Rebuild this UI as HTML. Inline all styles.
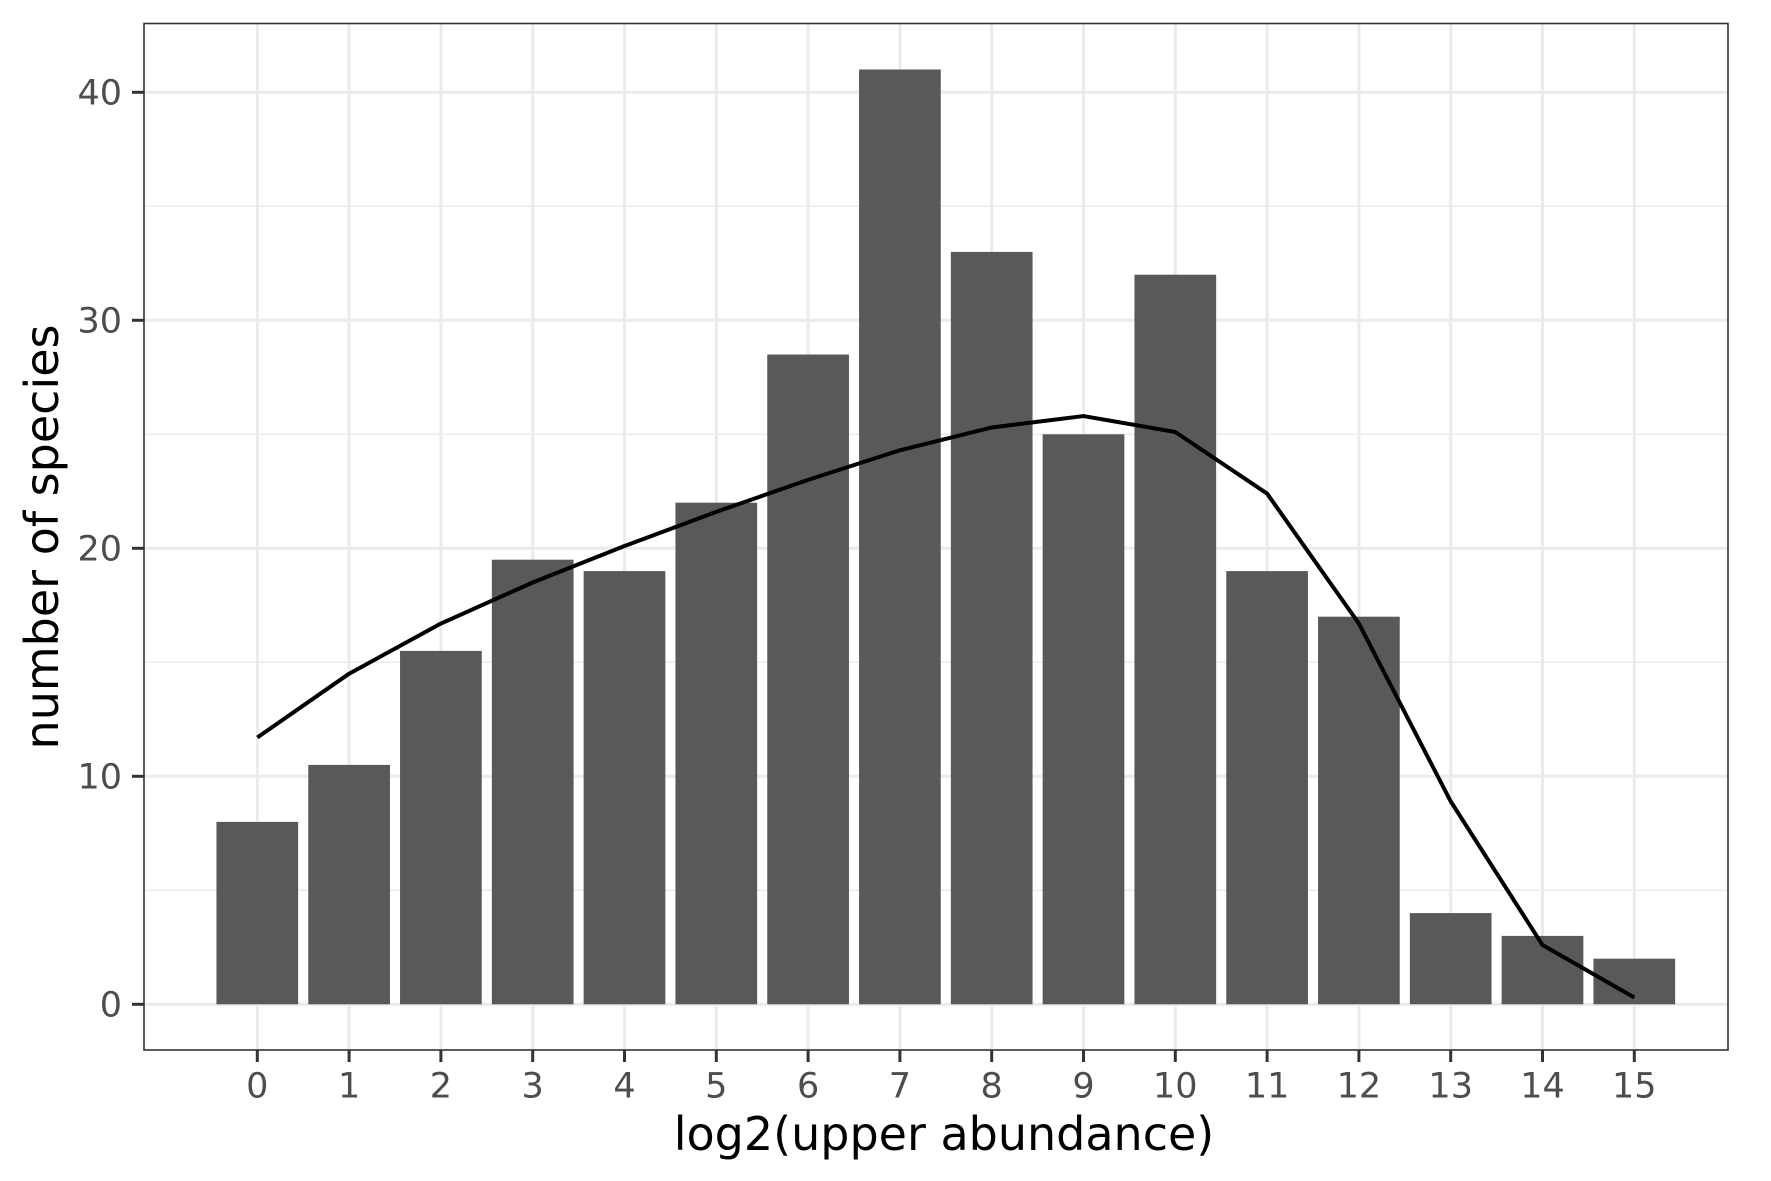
<!DOCTYPE html>
<html><head><meta charset="utf-8"><style>
html,body{margin:0;padding:0;background:#fff}
svg{display:block;font-family:"DejaVu Sans","Liberation Sans",sans-serif}
</style></head><body>
<svg id="chart" width="1771" height="1181" viewBox="0 0 1771 1181">
<g id="grid"></g>
<g id="bars"></g>
<g id="line"></g>
<g id="axes"></g>
<text x="944" y="1150" font-size="46" text-anchor="middle" fill="#000">log2(upper abundance)</text>
<text transform="translate(58,537) rotate(-90)" font-size="46" text-anchor="middle" fill="#000">number of species</text>
</svg>
<script>
const categories = [0,1,2,3,4,5,6,7,8,9,10,11,12,13,14,15];
const barValues = [8,10.5,15.5,19.5,19,22,28.5,41,33,25,32,19,17,4,3,2];
const lineValues = [11.7,14.5,16.7,18.5,20.1,21.6,23,24.3,25.3,25.8,25.1,22.4,16.7,8.9,2.6,0.3];
const yTicks = [0,10,20,30,40];
const yMinor = [5,15,25,35];

const L=144, R=1728, T=23.5, B=1050;
const X = v => 257.3 + v*91.8;
const Y = v => 1004.3 - v*22.8;
const NS="http://www.w3.org/2000/svg";
function mk(tag, attrs, parent){const e=document.createElementNS(NS,tag);for(const k in attrs)e.setAttribute(k,attrs[k]);parent.appendChild(e);return e;}
const grid=document.getElementById('grid'), bars=document.getElementById('bars'), line=document.getElementById('line'), axes=document.getElementById('axes');

yMinor.forEach(v=>{const e=mk('line',{x1:L,x2:R,y1:Y(v),y2:Y(v),stroke:'#ebebeb','stroke-width':1.5},grid);

});
yTicks.forEach(v=>{const e=mk('line',{x1:L,x2:R,y1:Y(v),y2:Y(v),stroke:'#ebebeb','stroke-width':3},grid);

});
categories.forEach(c=>{const e=mk('line',{x1:X(c),x2:X(c),y1:T,y2:B,stroke:'#ebebeb','stroke-width':3},grid);

});

categories.forEach((c,i)=>{const w=0.89*91.8;const e=mk('rect',{x:X(c)-w/2,y:Y(barValues[i]),width:w,height:Y(0)-Y(barValues[i]),fill:'#595959'},bars);

});

const pts=categories.map((c,i)=>X(c)+','+Y(lineValues[i])).join(' ');
const pl=mk('polyline',{points:pts,fill:'none',stroke:'#000','stroke-width':4,'stroke-linejoin':'round'},line);



const fr=mk('rect',{x:L,y:T,width:R-L,height:B-T,fill:'none',stroke:'#333','stroke-width':1.6},axes);


yTicks.forEach(v=>{mk('line',{x1:L-12,x2:L,y1:Y(v),y2:Y(v),stroke:'#333','stroke-width':3},axes);
const t=mk('text',{x:L-22,y:Y(v)+12,'font-size':35,'text-anchor':'end',fill:'#4d4d4d'},axes);t.textContent=v;

});
categories.forEach(c=>{mk('line',{x1:X(c),x2:X(c),y1:B,y2:B+12,stroke:'#333','stroke-width':3},axes);
const t=mk('text',{x:X(c),y:1097.5,'font-size':35,'text-anchor':'middle',fill:'#4d4d4d'},axes);t.textContent=c;

});
</script>
</body></html>
